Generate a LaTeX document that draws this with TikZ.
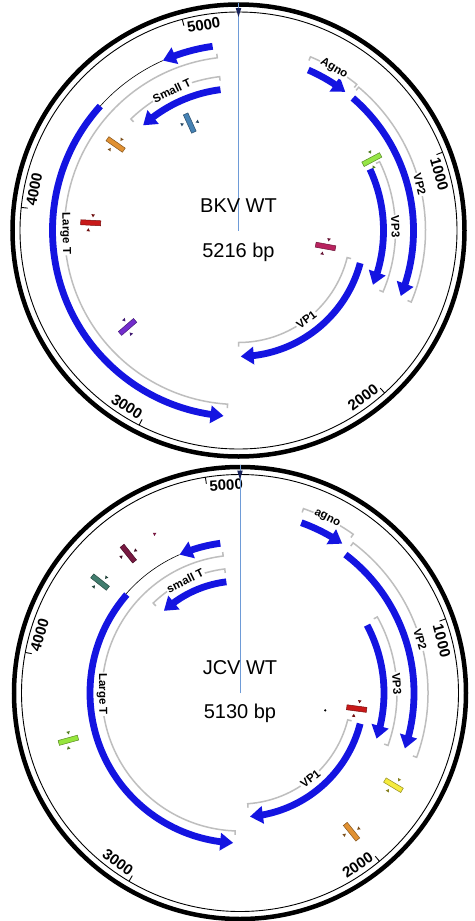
\documentclass[tikz,border=0pt]{standalone}
\usepackage{fontspec}
\setmainfont{Liberation Sans}
\usetikzlibrary{arrows.meta,bending}

\definecolor{geneblue}{RGB}{20,20,225}
\definecolor{bracketgray}{RGB}{190,190,190}
\definecolor{axisblue}{RGB}{110,155,215}
\definecolor{navymark}{RGB}{25,35,90}
\definecolor{steelmark}{RGB}{70,130,180}
\definecolor{markorange}{RGB}{225,145,50}
\definecolor{markred}{RGB}{200,25,25}
\definecolor{markpurple}{RGB}{115,45,205}
\definecolor{markcrimson}{RGB}{185,35,95}
\definecolor{markgreen}{RGB}{150,230,70}
\definecolor{markmaroon}{RGB}{120,25,65}
\definecolor{markteal}{RGB}{65,125,110}
\definecolor{marklime}{RGB}{150,230,60}
\definecolor{markyellow}{RGB}{245,235,60}

% arco di un gene: raggio, angolo iniziale, angolo finale, opzioni
\newcommand{\genearc}[4]{\draw[gene,#4] ({90-(#2)}:#1) arc[start angle={90-(#2)}, end angle={90-(#3)}, radius=#1];}
% parentesi grigia: raggio, angoli, uncino
\newcommand{\brk}[4]{\draw[grayarc] ({90-(#2)}:{#1+(#4)}) -- ({90-(#2)}:#1) arc[start angle={90-(#2)}, end angle={90-(#3)}, radius=#1] -- ({90-(#3)}:{#1+(#4)});}
% testo lungo il cerchio: stile, nome, raggio, angolo, testo
\newcommand{\along}[5]{%
  \pgfmathsetmacro{\labzero}{mod(720-(#4),360)}%
  \pgfmathsetmacro{\labrot}{\labzero>270 ? \labzero-360 : (\labzero>90 ? \labzero-180 : \labzero)}%
  \node[#1, rotate=\labrot] (#2) at ({90-(#4)}:#3) {#5};}
% sito: raggio, angolo, colore
\newcommand{\sitemark}[3]{%
  \begin{scope}[shift={({90-(#2)}:#1)}, rotate={90-(#2)}]
    \draw[draw=#3!60!black, fill=#3, line width=0.5pt] (-10,-2.5) rectangle (10,2.5);
    \fill[#3!55!black] (0.2,8.6) -- (3.8,8.6) -- (2,5.6) -- cycle;
    \fill[#3!55!black] (-3.8,-8.6) -- (-0.2,-8.6) -- (-2,-5.6) -- cycle;
  \end{scope}}
% anello con scala: lunghezza, prefisso
\newcommand{\ring}[2]{%
  \draw[outerring] (0,0) circle[radius=226];
  \draw[innerring] (0,0) circle[radius=218.5];
  \foreach \k in {1,...,5} {
    \pgfmathsetmacro{\tk}{\k*360/#1*1000}
    \draw[innerring] ({90-\tk}:218.5) -- ({90-\tk}:212);
    \along{numtext}{#2-tick\k}{208.5}{\tk+5.3}{\k000}
  }}

\begin{document}
\begin{tikzpicture}[x=1pt, y=1pt]
        % Stili
        \tikzstyle{gene} = [draw=geneblue, line width=6.8pt, -{Triangle[width=17pt,length=13pt]}]
        \tikzstyle{intron} = [draw=black, line width=0.6pt, -]
        \tikzstyle{grayarc} = [draw=bracketgray, line width=1.5pt]
        \tikzstyle{genetext} = [font=\bfseries\fontsize{11.5}{13}\selectfont, fill=white, inner sep=1pt]
        \tikzstyle{numtext} = [font=\bfseries\fontsize{15}{17}\selectfont, inner sep=0pt]
        \tikzstyle{titletext} = [font=\fontsize{20}{24}\selectfont, inner sep=0pt]
        \tikzstyle{outerring} = [draw=black, line width=4.5pt]
        \tikzstyle{innerring} = [draw=black, line width=0.9pt]
        \tikzstyle{axisline} = [draw=axisblue, line width=0.8pt]

        \fill[white] (0,0) rectangle (474,-921);
        \useasboundingbox (0,0) rectangle (474,-921);

        \coordinate (bkv) at (238.5,-230.5);
        \coordinate (jcv) at (240,-693);

        % Mappa BKV
        \begin{scope}[shift={(bkv)}]
            \ring{5216}{bkv}
            \draw[axisline] (0,0) -- (0,228);
            \fill[navymark] (-2.8,222.5) -- (2.8,222.5) -- (0,213.5) -- cycle;
            \node[titletext] (bkvname) at (0,25) {BKV WT};
            \node[titletext] (bkvsize) at (0,-22) {5216 bp};

            % Geni tardivi
            \genearc{175}{23.5}{37.6}{}
            \brk{188}{22.5}{39}{-4}
            \along{genetext}{bkvagno}{188}{30.5}{Agno}
            \genearc{175}{40.8}{112}{}
            \brk{187}{40}{112.5}{-4}
            \along{genetext}{bkvvp2}{187}{75.7}{VP2}
            \genearc{145}{65}{112}{}
            \brk{157}{64}{113}{-4}
            \along{genetext}{bkvvp3}{157}{88.6}{VP3}
            \genearc{126}{105}{179}{}
            \brk{112}{104}{180}{4}
            \along{genetext}{bkvvp1}{112}{142.7}{VP1}

            % Geni precoci
            \genearc{186}{352}{336}{}
            \genearc{186}{336}{312}{intron}
            \genearc{186}{312}{184.6}{}
            \brk{174}{353}{183.6}{4}
            \along{genetext}{bkvlarge}{173}{269}{Large T}
            \genearc{142}{352.7}{317.8}{}
            \brk{155}{353}{316}{-4}
            \along{genetext}{bkvsmall}{155}{334.5}{Small T}

            % Siti
            \sitemark{118}{335.6}{steelmark}
            \sitemark{150}{305}{markorange}
            \sitemark{148}{273}{markred}
            \sitemark{147}{229}{markpurple}
            \sitemark{88.5}{100.4}{markcrimson}
            \sitemark{151}{62}{markgreen}
        \end{scope}

        % Mappa JCV
        \begin{scope}[shift={(jcv)}]
            \ring{5130}{jcv}
            \draw[axisline] (0,0) -- (0,228);
            \fill[navymark] (-2.8,222.5) -- (2.8,222.5) -- (0,213.5) -- cycle;
            \node[titletext] (jcvname) at (0,25) {JCV WT};
            \node[titletext] (jcvsize) at (0,-20) {5130 bp};

            % Geni tardivi
            \genearc{181}{19.8}{34.4}{}
            \brk{195}{19}{35.5}{-4}
            \along{genetext}{jcvagno}{195}{26.5}{agno}
            \genearc{174}{37.3}{108.6}{}
            \brk{188}{37}{110}{-4}
            \along{genetext}{jcvvp2}{188}{73.4}{VP2}
            \genearc{144}{61.9}{108.5}{}
            \brk{157}{61}{109.5}{-4}
            \along{genetext}{jcvvp3}{157}{86.6}{VP3}
            \genearc{124}{104.3}{175.4}{}
            \brk{111}{104}{176}{4}
            \along{genetext}{jcvvp1}{111}{140.7}{VP1}

            % Geni precoci
            \genearc{151}{352.5}{336.4}{}
            \genearc{151}{336.4}{311}{intron}
            \genearc{150}{311}{182.6}{}
            \brk{138}{353}{182}{4}
            \along{genetext}{jcvlarge}{138}{269.5}{Large T}
            \genearc{112}{353}{317.2}{}
            \brk{125}{353}{316}{-4}
            \along{genetext}{jcvsmall}{125}{334}{small T}

            % Siti
            \sitemark{178.6}{321.3}{markmaroon}
            \sitemark{178.6}{308.4}{markteal}
            \sitemark{178}{254.6}{marklime}
            \sitemark{117.7}{97.6}{markred}
            \sitemark{179}{121}{markyellow}
            \sitemark{178}{141.2}{markorange}
            \begin{scope}[shift={({90-331.9}:180.6)}, rotate={90-331.9}]
                \fill[markmaroon] (-1.8,1.5) -- (1.8,1.5) -- (0,-1.5) -- cycle;
            \end{scope}
            \fill[black] ({90-101.5}:87) circle[radius=1.2];
        \end{scope}

\end{tikzpicture}
\end{document}
